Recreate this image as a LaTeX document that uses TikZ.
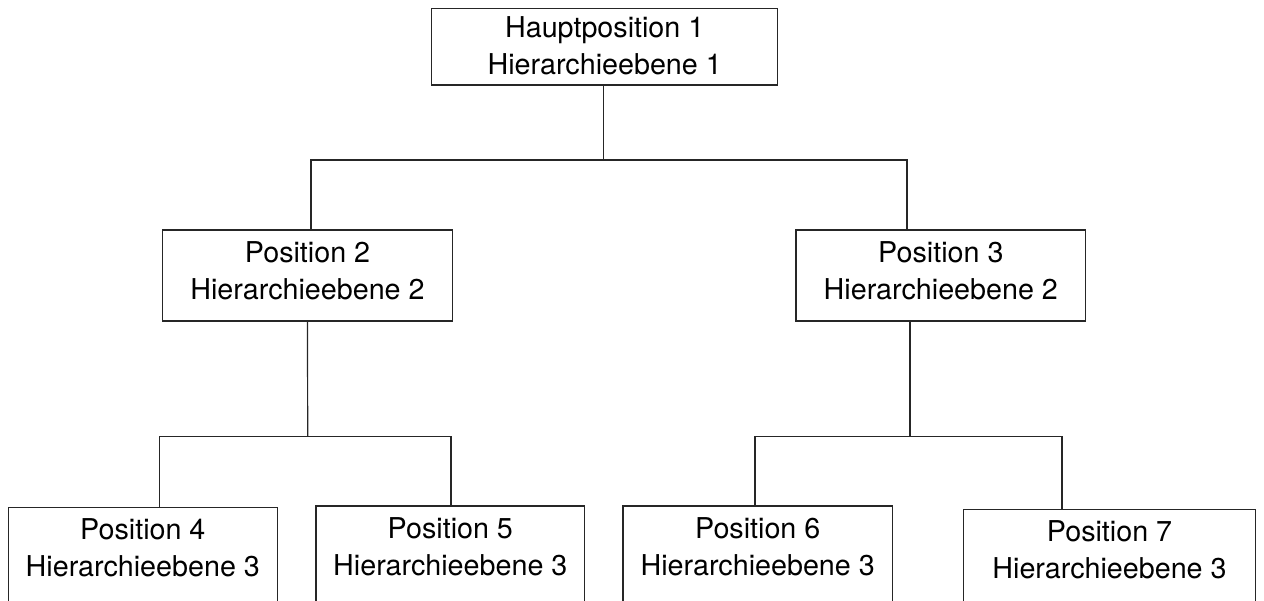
\documentclass[tikz,border=0pt]{standalone}
\usepackage{fontspec}
\setmainfont{TeX Gyre Heros}
\begin{document}
\begin{tikzpicture}[x=1pt,y=-1pt,
  box/.style={draw=black!85, line width=1.2pt, rectangle, inner sep=0pt},
  lbl/.style={align=center, inner sep=0pt, font=\fontsize{28.7}{37}\selectfont},
  link/.style={draw=black!85, line width=1.2pt}]
\useasboundingbox (0,0) rectangle (1264,600);
\clip (0,0) rectangle (1264,600);

% level 1
\node[box, minimum width=346pt, minimum height=76.7pt] (p1) at (604.7,46.7) {};
\node[lbl] (t1) at ([yshift=-38.4pt]p1.north) {Hauptposition 1\\Hierarchieebene 1};

% level 2
\node[box, minimum width=290.4pt, minimum height=91pt] (p2) at (307.5,275.5) {};
\node[lbl] (t2) at ([yshift=-41.5pt]p2.north) {Position 2\\Hierarchieebene 2};
\node[box, minimum width=289.7pt, minimum height=91pt] (p3) at (940.8,275.5) {};
\node[lbl] (t3) at ([yshift=-41.5pt]p3.north) {Position 3\\Hierarchieebene 2};

% level 3 (boxes run past the lower edge)
\node[box, minimum width=269pt, minimum height=110pt] (p4) at (142.8,562.3) {};
\node[lbl] (t4) at ([yshift=-41.5pt]p4.north) {Position 4\\Hierarchieebene 3};
\node[box, minimum width=268.7pt, minimum height=110pt] (p5) at (450.3,561) {};
\node[lbl] (t5) at ([yshift=-41.5pt]p5.north) {Position 5\\Hierarchieebene 3};
\node[box, minimum width=269.3pt, minimum height=110pt] (p6) at (757.7,561) {};
\node[lbl] (t6) at ([yshift=-41.5pt]p6.north) {Position 6\\Hierarchieebene 3};
\node[box, minimum width=292.4pt, minimum height=110pt] (p7) at (1109.5,564.3) {};
\node[lbl] (t7) at ([yshift=-41.5pt]p7.north) {Position 7\\Hierarchieebene 3};

% junction points of the orthogonal connectors
\coordinate (j1) at (603.3,160);
\coordinate (j2) at (307.7,436.7);
\coordinate (j3) at (910,436.7);

% connectors
\draw[link] ([xshift=-1.4pt]p1.south) -- (j1);
\draw[link] ([xshift=3.5pt]p2.north) |- (j1) -| ([xshift=-33.8pt]p3.north);
\draw[link] (p2.south) -- (j2);
\draw[link] ([xshift=16.9pt]p4.north) |- (j2) -| ([xshift=0.7pt]p5.north);
\draw[link] ([xshift=-30.8pt]p3.south) -- (j3);
\draw[link] ([xshift=-2.7pt]p6.north) |- (j3) -| ([xshift=-47.5pt]p7.north);
\end{tikzpicture}
\end{document}
